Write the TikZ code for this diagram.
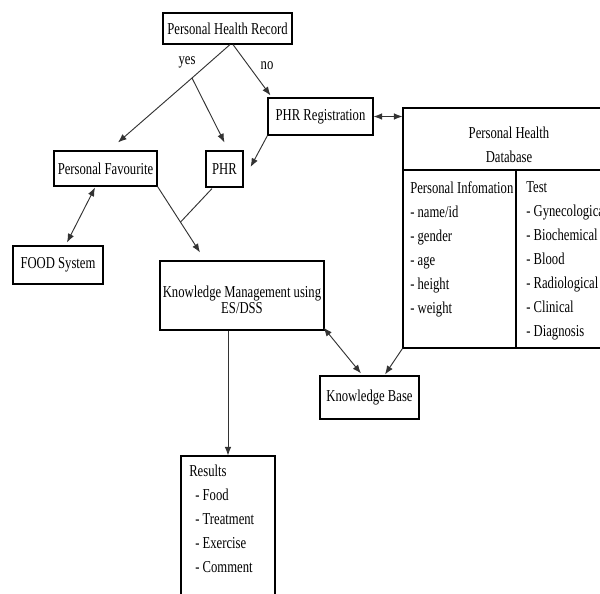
\documentclass[tikz,border=0pt]{standalone}
\usepackage{fontspec}
\setmainfont{Liberation Serif}[FakeStretch=0.76]
\usetikzlibrary{arrows.meta,calc}

\begin{document}
\begin{tikzpicture}[x=0.75pt,y=0.75pt,yscale=-1,xscale=1,
	every node/.style={font=\fontsize{12.5}{18}\selectfont},
	box/.style 2 args={draw, line width=0.85pt, inner sep=1.5pt, minimum width=#1*0.75pt, minimum height=#2*0.75pt},
	txt/.style={anchor=north west, inner sep=0pt, align=left},
	link/.style={draw=black!80, line width=0.7pt},
	arr/.style={link, -{Latex[length=6.5pt,width=5pt]}},
	dblarr/.style={link, {Latex[length=6.5pt,width=5pt]}-{Latex[length=6.5pt,width=5pt]}}]
	\useasboundingbox (0,0) rectangle (600,593);
	\clip (0,0) rectangle (600,593);
	\draw (227.5,28.5) node [box={129}{31}] (phrec) {Personal Health Record};
	\draw (320.5,116.5) node [box={105}{37}] (phrreg) {PHR Registration};
	\draw (224.5,169) node [box={37}{36}] (phr) {PHR};
	\draw (105.5,168.5) node [box={103}{35}] (fav) {Personal Favourite};
	\draw (58,265) node [box={90}{38}] (food) {FOOD System};
	\draw (242,295.5) node [box={164}{69}, align=center, font=\fontsize{12.5}{12.5}\selectfont] (km) {\rule{0pt}{15pt}Knowledge Management using\\ES/DSS};
	\draw (369.5,397.5) node [box={99}{43}] (kb) {Knowledge Base};
	\draw (508,228) node [box={210}{240}] (db) {};
	\draw (228,540) node [box={94}{168}] (res) {};
	\draw [line width=0.85pt] (403,170) -- (613,170);
	\draw [line width=0.85pt] (516,170) -- (516,348);
	\draw (509,145) node [align=center, inner sep=0pt] (dbhead) {Personal Health\\Database};
	\draw (410,181.5) node [txt] (info) {Personal Infomation\\- name/id\\- gender\\- age\\- height\\- weight};
	\draw (526,181.5) node [txt] (test) {Test\\- Gynecological\\- Biochemical\\- Blood\\- Radiological\\- Clinical\\- Diagnosis};
	\draw (189,465) node [txt] (reslist) {Results\\\hspace*{4.5pt}- Food\\\hspace*{4.5pt}- Treatment\\\hspace*{4.5pt}- Exercise\\\hspace*{4.5pt}- Comment};
	\draw (187,64) node [anchor=base, inner sep=0pt] (yeslbl) {yes};
	\draw (267,69.5) node [anchor=base, inner sep=0pt] (nolbl) {no};
	\coordinate (split) at (192,78);
	\coordinate (kmtip) at ($(km.north)+(-42,-8)$);
	\coordinate (join) at ($(fav.south east)!0.54!(kmtip)$);
	\draw [link] ($(phrec.south)+(2.5,0)$) -- (split);
	\draw [arr] (split) -- ($(fav.north)+(12.5,-8)$);
	\draw [arr] (split) -- ($(phr.north)+(0,-8)$);
	\draw [arr] ($(phrec.south)+(5.5,0)$) -- ($(phrreg.north west)+(3,-2)$);
	\draw [arr] (phrreg.south west) -- ($(phr.east)+(7,-2)$);
	\draw [dblarr] (phrreg.east) -- (phrreg.east -| db.west);
	\draw [arr] (fav.south east) -- (kmtip);
	\draw [link] ($(phr.south)+(-12.5,1)$) -- (join);
	\draw [dblarr] ($(fav.south)+(-10.5,1)$) -- ($(food.north)+(9,-3)$);
	\draw [dblarr] ($(km.south east)+(-1,-3)$) -- ($(kb.north)+(-8.5,-2)$);
	\draw [arr] (db.south west) -- ($(kb.north)+(15.5,-1)$);
	\draw [arr] (res.north |- km.south) -- (res.north);
\end{tikzpicture}
\end{document}
